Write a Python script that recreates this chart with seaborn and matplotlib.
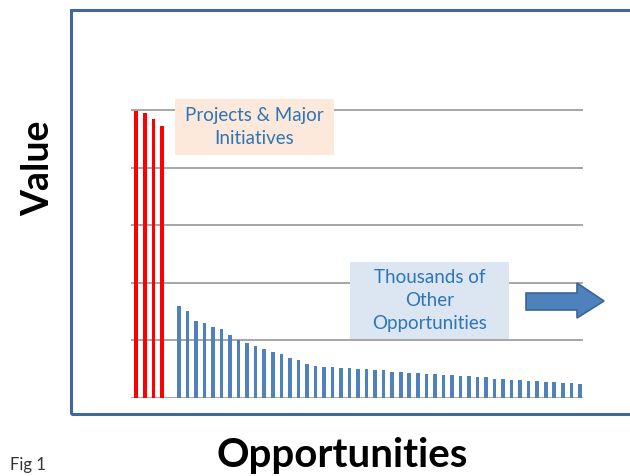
import numpy as np
import pandas as pd
import matplotlib
matplotlib.use("Agg")
import matplotlib.pyplot as plt
import matplotlib.patches as mpatches
import seaborn as sns

# ─── Data ────────────────────────────────────────────────────────────────────
major_values = [4.98, 4.94, 4.84, 4.73]
other_values = [
    1.60, 1.50, 1.33, 1.29, 1.23, 1.19, 1.09, 1.00, 0.95, 0.89, 0.85, 0.79,
    0.75, 0.69, 0.65, 0.59, 0.55, 0.53, 0.53, 0.51, 0.51, 0.49,
    0.49, 0.475, 0.475, 0.45, 0.45, 0.43, 0.43, 0.41, 0.41, 0.395, 0.395,
    0.375, 0.375, 0.355, 0.355, 0.33, 0.33, 0.31, 0.31, 0.29, 0.29,
    0.27, 0.27, 0.255, 0.255, 0.24,
]
group_names = ["Projects & Major Initiatives", "Thousands of Other Opportunities"]
box_texts = ["Projects & Major\nInitiatives", "Thousands of\nOther\nOpportunities"]

# one empty slot between the two groups
positions = list(range(len(major_values))) + \
    list(range(len(major_values) + 1, len(major_values) + 1 + len(other_values)))
df = pd.DataFrame({
    "slot" : positions,
    "value": major_values + other_values,
    "group": [group_names[0]] * len(major_values) + [group_names[1]] * len(other_values),
})

# ─── Style ───────────────────────────────────────────────────────────────────
sns.set_style("white")
plt.rcParams["font.family"] = ["Lato", "DejaVu Sans"]

W, H = 630, 476
def fx(x): return x / W
def fy(y): return 1 - y / H

fig = plt.figure(figsize=(W / 100, H / 100), dpi=100)
unit = 57.5
ymax = 5.03
ax = fig.add_axes([fx(131), fy(397.5), (583 - 131) / W, ymax * unit / H])

sns.barplot(
    data=df, x="slot", y="value", hue="group",
    native_scale=True, dodge=False, width=0.42, saturation=1,
    palette={group_names[0]: "#ff0000", group_names[1]: "#4f81bd"},
    linewidth=0, legend=False, ax=ax, zorder=3,
)
ax.set_xlim(-0.62, 52.37)
ax.set_ylim(0, ymax)
ax.set_yticks(np.arange(0, 6))
ax.yaxis.grid(True, color="#a6a6a6", lw=1.4)
ax.set_axisbelow(True)
ax.tick_params(left=False, bottom=False, labelleft=False, labelbottom=False,
               length=0)
ax.set_xlabel("")
ax.set_ylabel("")
for s in ax.spines.values():
    s.set_visible(False)

# ─── Outer frame ─────────────────────────────────────────────────────────────
frame = mpatches.Rectangle((fx(71), fy(414)), (650 - 71) / W, (414 - 10) / H,
                           transform=fig.transFigure, fill=False,
                           ec="#41689c", lw=2.2)
fig.add_artist(frame)

# ─── Annotation boxes ────────────────────────────────────────────────────────
def box(x0, y0, x1, y1, color, text):
    r = mpatches.Rectangle((fx(x0), fy(y1)), (x1 - x0) / W, (y1 - y0) / H,
                           transform=fig.transFigure, fc=color, ec="none")
    fig.add_artist(r)
    fig.text(fx((x0 + x1) / 2), fy((y0 + y1) / 2), text, ha="center",
             va="center", fontsize=13.5, color="#2e75b6", linespacing=1.45)

box(175, 99, 334, 155, "#fce9db", box_texts[0])
box(350, 262, 509, 339, "#dce6f2", box_texts[1])

# ─── Arrow ───────────────────────────────────────────────────────────────────
pts = [(526, 293), (577, 293), (577, 283), (604, 301), (577, 318), (577, 310), (526, 310)]
arrow = mpatches.Polygon([(fx(x), fy(y)) for x, y in pts], closed=True,
                         transform=fig.transFigure, fc="#4f81bd", ec="#3a6596", lw=1.2)
fig.add_artist(arrow)

# ─── Labels ──────────────────────────────────────────────────────────────────
fig.text(fx(38), fy(168), "Value", rotation=90, ha="center", va="center",
         fontsize=27, fontweight="bold", color="black")
fig.text(fx(342), fy(456), "Opportunities", ha="center", va="center",
         fontsize=29, fontweight="bold", color="black")
fig.text(fx(10), fy(465), "Fig 1", ha="left", va="center", fontsize=12, color="#333333")

fig.savefig("out.png", dpi=100)
